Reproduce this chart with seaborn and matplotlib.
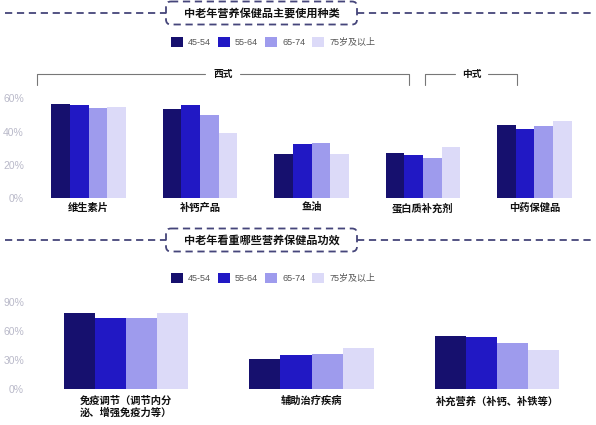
import numpy as np
import pandas as pd
import seaborn as sns
import matplotlib.pyplot as plt
from matplotlib.patches import FancyBboxPatch
from matplotlib.ticker import FuncFormatter

# age groups and colours
ages = ['45-54', '55-64', '65-74', '75岁及以上']
colors = ['#16106e', '#2118c4', '#9e9bed', '#dcdaf8']

# panel 1: kinds of supplements used (%)
types = ['维生素片', '补钙产品', '鱼油', '蛋白质补充剂', '中药保健品']
type_45 = [56.4, 53.8, 26.8, 27.4, 44.2]
type_55 = [56.0, 55.8, 32.6, 26.0, 41.8]
type_65 = [54.4, 50.0, 33.0, 24.4, 43.4]
type_75 = [54.8, 39.4, 26.4, 30.6, 46.6]
type_ticks = [0, 20, 40, 60]

# panel 2: effects valued (%)
effects = ['免疫调节（调节内分\n泌、增强免疫力等）', '辅助治疗疾病', '补充营养（补钙、补铁等）']
eff_45 = [78.7, 31.2, 55.0]
eff_55 = [73.5, 35.0, 53.6]
eff_65 = [72.9, 36.4, 47.7]
eff_75 = [78.7, 42.5, 40.5]
eff_ticks = [0, 30, 60, 90]

sns.set_theme(style='white')
plt.rcParams['font.family'] = ['Liberation Sans', 'Noto Sans CJK SC', 'DejaVu Sans']

W, H = 596, 425
fig = plt.figure(figsize=(W / 100, H / 100), dpi=100)
fig.patch.set_facecolor('white')

# overlay in pixel coords for headers and brackets
ov = fig.add_axes([0, 0, 1, 1])
ov.set_xlim(0, W)
ov.set_ylim(H, 0)
ov.axis('off')

line_col = '#45457a'


def header(y, title):
    ov.plot([5, 166], [y, y], color=line_col, lw=1.3, ls=(0, (4, 2.6)))
    ov.plot([357, 594], [y, y], color=line_col, lw=1.3, ls=(0, (4, 2.6)))
    box = FancyBboxPatch((166, y - 11.5), 191, 23, boxstyle='round,pad=0,rounding_size=5',
                         fc='white', ec=line_col, lw=1.3, ls=(0, (4, 2.6)))
    ov.add_patch(box)
    ov.text(261.5, y, title, ha='center', va='center', fontsize=8, fontweight='bold', color='#111111')


header(13, '中老年营养保健品主要使用种类')
header(240, '中老年看重哪些营养保健品功效')

# brackets 西式 / 中式
bc = '#777777'
ov.plot([37, 37, 205], [85, 73.5, 73.5], color=bc, lw=0.8)
ov.plot([240, 409, 409], [73.5, 73.5, 85], color=bc, lw=0.8)
ov.text(223, 73.5, '西式', ha='center', va='center', fontsize=7, fontweight='bold', color='#111111')
ov.plot([425, 425, 455], [85, 73.5, 73.5], color=bc, lw=0.8)
ov.plot([488, 517, 517], [73.5, 73.5, 85], color=bc, lw=0.8)
ov.text(472, 73.5, '中式', ha='center', va='center', fontsize=7, fontweight='bold', color='#111111')


def panel(rect, cats, series, ticks, xpad, leg_y):
    ax = fig.add_axes(rect)
    df = pd.DataFrame({
        'cat': cats * len(ages),
        'age': np.repeat(ages, len(cats)),
        'val': np.concatenate(series),
    })
    sns.barplot(data=df, x='cat', y='val', hue='age', palette=colors, width=0.67, gap=0,
                saturation=1, linewidth=0, ax=ax)
    ax.set_xlim(-0.5, len(cats) - 0.5)
    ax.set_ylim(0, ticks[-1])
    ax.set_yticks(ticks)
    ax.yaxis.set_major_formatter(FuncFormatter(lambda v, p: f'{v:.0f}%'))
    ax.set_xlabel('')
    ax.set_ylabel('')
    ax.set_facecolor('none')
    sns.despine(ax=ax, left=True, bottom=True)
    ax.tick_params(axis='y', length=0, pad=6.5, labelsize=7.5, labelcolor='#b9b9c9')
    ax.tick_params(axis='x', length=0, pad=xpad, labelsize=7.4, labelcolor='#111111')
    for lab in ax.get_xticklabels():
        lab.set_fontweight('bold')
        lab.set_multialignment('left')
    handles, labels = ax.get_legend_handles_labels()
    ax.get_legend().remove()
    leg = ax.legend(handles, labels, loc='center', bbox_to_anchor=(273 / W, 1 - leg_y / H),
                    bbox_transform=fig.transFigure, ncol=4, frameon=False, fontsize=6.5,
                    handlelength=1.33, handleheight=1.33, handletextpad=0.55, columnspacing=0.8,
                    borderpad=0)
    for t in leg.get_texts():
        t.set_color('#555555')
    return ax


panel([33 / W, (H - 198.3) / H, 557 / W, 100 / H], types,
      [type_45, type_55, type_65, type_75], type_ticks, 3, 42)
panel([33 / W, (H - 389) / H, 557 / W, 87.3 / H], effects,
      [eff_45, eff_55, eff_65, eff_75], eff_ticks, 5, 278)

fig.savefig('out.png', dpi=100, facecolor='white')
